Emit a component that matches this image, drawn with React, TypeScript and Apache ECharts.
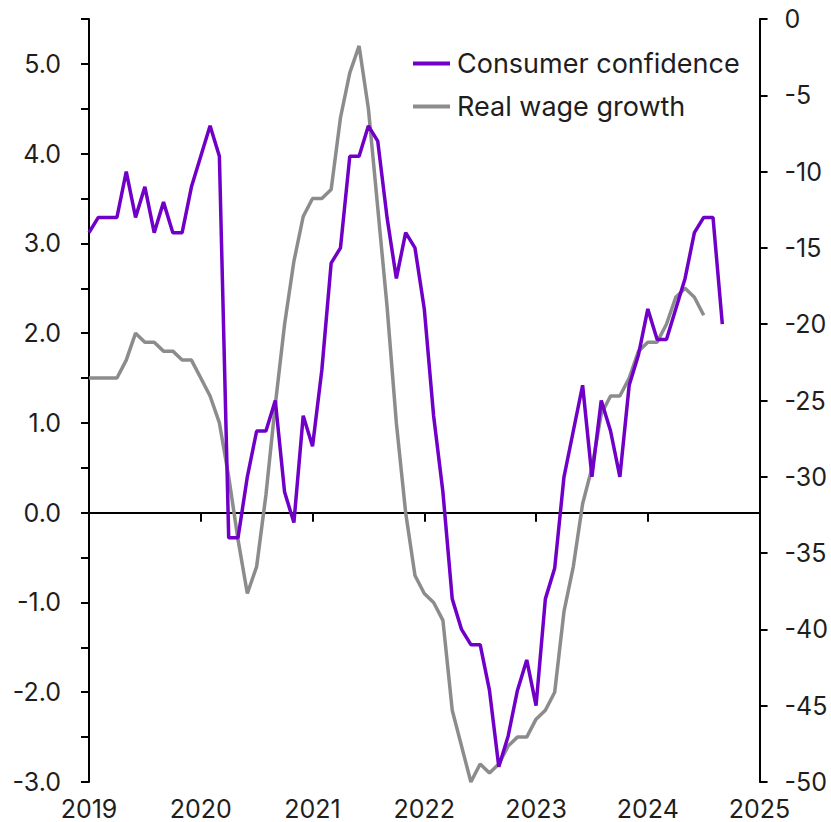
import React, { useEffect, useRef } from "react";
import * as echarts from "echarts";

// Monthly data, Jan 2019 onwards
const START_YEAR = 2019;

// Consumer confidence (right axis), Jan 2019 – Sep 2024
const consumerConfidence: number[] = [
  -14, -13, -13, -13, -10, -13, -11, -14, -12, -14, -14, -11,
  -9, -7, -9, -34, -34, -30, -27, -27, -25, -31, -33, -26,
  -28, -23, -16, -15, -9, -9, -7, -8, -13, -17, -14, -15,
  -19, -26, -31, -38, -40, -41, -41, -44, -49, -47, -44, -42,
  -45, -38, -36, -30, -27, -24, -30, -25, -27, -30, -24, -22,
  -19, -21, -21, -19, -17, -14, -13, -13, -20,
];

// Real wage growth (left axis), Jan 2019 – Jul 2024
const realWageGrowth: number[] = [
  1.5, 1.5, 1.5, 1.5, 1.7, 2.0, 1.9, 1.9, 1.8, 1.8, 1.7, 1.7,
  1.5, 1.3, 1.0, 0.4, -0.3, -0.9, -0.6, 0.2, 1.2, 2.1, 2.8, 3.3,
  3.5, 3.5, 3.6, 4.4, 4.9, 5.2, 4.5, 3.4, 2.3, 1.0, 0.0, -0.7,
  -0.9, -1.0, -1.2, -2.2, -2.6, -3.0, -2.8, -2.9, -2.8, -2.6, -2.5, -2.5,
  -2.3, -2.2, -2.0, -1.1, -0.6, 0.1, 0.5, 1.1, 1.3, 1.3, 1.5, 1.8,
  1.9, 1.9, 2.1, 2.4, 2.5, 2.4, 2.2,
];

const seriesNames = ["Consumer confidence", "Real wage growth"];
const yearTicks = [2019, 2020, 2021, 2022, 2023, 2024, 2025];

const PURPLE = "#7000C8";
const GREY = "#8C8C8C";
const TEXT = "#1e1e1e";
const FONT = "Inter, 'Noto Sans', sans-serif";
const FS = 25;
const LEGEND_FS = 27;

const toPairs = (vals: number[]) =>
  vals.map((v, i) => [START_YEAR + i / 12, v]);

export default function App() {
  const ref = useRef<HTMLDivElement>(null);

  useEffect(() => {
    if (!ref.current) return;
    const chart = echarts.init(ref.current, undefined, { renderer: "svg" });
    const xMin = yearTicks[0];
    const xMax = yearTicks[yearTicks.length - 1];
    chart.setOption({
      animation: false,
      backgroundColor: "#ffffff",
      textStyle: { fontFamily: FONT },
      grid: { left: 89, right: 68, top: 19, bottom: 40, containLabel: false },
      legend: {
        data: seriesNames,
        orient: "vertical",
        left: 408,
        top: 45,
        itemWidth: 37,
        itemHeight: 4,
        itemGap: 16,
        icon: "rect",
        textStyle: {
          fontSize: LEGEND_FS,
          lineHeight: 26,
          color: TEXT,
          fontFamily: FONT,
          padding: [0, 0, 0, 2],
        },
      },
      xAxis: [
        {
          type: "value",
          min: xMin,
          max: xMax,
          interval: 1,
          position: "bottom",
          axisLine: { show: false, onZero: false },
          axisTick: { show: false },
          splitLine: { show: false },
          axisLabel: {
            margin: 14,
            fontSize: FS,
            color: TEXT,
            fontFamily: FONT,
            formatter: (v: number) => String(v),
          },
        },
        {
          type: "value",
          min: xMin,
          max: xMax,
          interval: 1,
          position: "bottom",
          axisLine: {
            show: true,
            onZero: true,
            onZeroAxisIndex: 0,
            lineStyle: { color: "#000", width: 2 },
          },
          axisTick: {
            show: true,
            length: 9,
            inside: false,
            lineStyle: { color: "#000", width: 2 },
          },
          axisLabel: { show: false },
          splitLine: { show: false },
        },
      ],
      yAxis: [
        {
          type: "value",
          position: "left",
          min: -3,
          max: 5.5,
          interval: 0.5,
          axisLine: { show: true, onZero: false, lineStyle: { color: "#000", width: 2 } },
          axisTick: { show: true, length: 8, lineStyle: { color: "#000", width: 2 } },
          splitLine: { show: false },
          axisLabel: {
            margin: 28,
            fontSize: FS,
            color: TEXT,
            fontFamily: FONT,
            formatter: (v: number) =>
              Math.abs(v - Math.round(v)) < 1e-6 ? v.toFixed(1) : "",
          },
        },
        {
          type: "value",
          position: "right",
          min: -50,
          max: 0,
          interval: 5,
          axisLine: { show: true, onZero: false, lineStyle: { color: "#000", width: 2 } },
          axisTick: { show: true, length: 8, lineStyle: { color: "#000", width: 2 } },
          splitLine: { show: false },
          axisLabel: {
            margin: 25,
            fontSize: FS,
            color: TEXT,
            fontFamily: FONT,
            formatter: (v: number) => String(v),
          },
        },
      ],
      series: [
        {
          name: seriesNames[1],
          type: "line",
          xAxisIndex: 0,
          yAxisIndex: 0,
          data: toPairs(realWageGrowth),
          showSymbol: false,
          symbol: "none",
          color: GREY,
          lineStyle: { color: GREY, width: 3.5 },
        },
        {
          name: seriesNames[0],
          type: "line",
          xAxisIndex: 0,
          yAxisIndex: 1,
          data: toPairs(consumerConfidence),
          showSymbol: false,
          symbol: "none",
          color: PURPLE,
          lineStyle: { color: PURPLE, width: 3.5 },
        },
      ],
    });
    return () => chart.dispose();
  }, []);

  return (
    <div
      ref={ref}
      style={{ position: "fixed", left: 0, top: 0, width: 831, height: 822, background: "#fff" }}
    />
  );
}
